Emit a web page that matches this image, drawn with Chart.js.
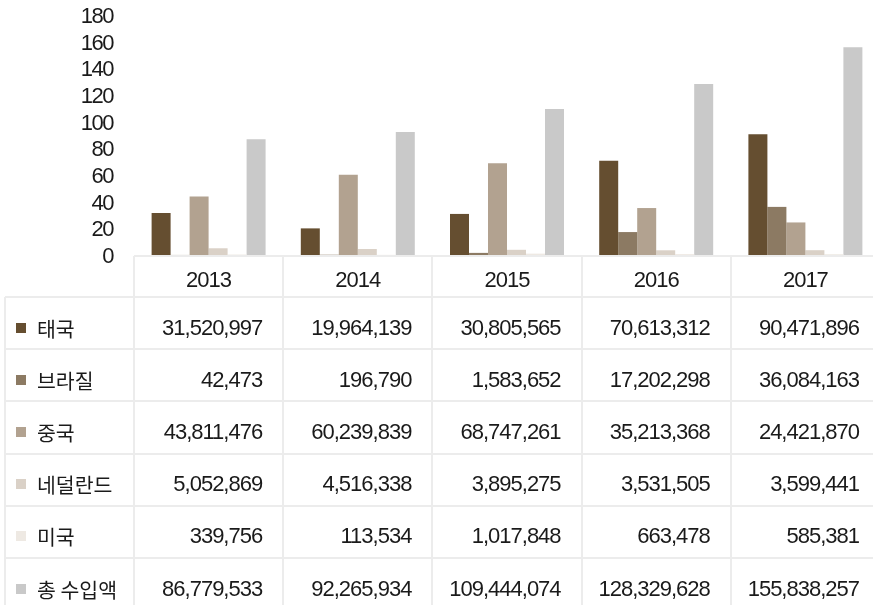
<!DOCTYPE html>
<html>
<head>
<meta charset="utf-8">
<script src="https://cdn.jsdelivr.net/npm/chart.js@4"></script>
<style>
  html, body { margin: 0; padding: 0; background: #fff; overflow: hidden; }
  #wrap { position: relative; width: 873px; height: 605px; overflow: hidden; }
  #box { position: absolute; left: 0; top: 0; width: 880px; height: 272px; }
  #tbl { position: absolute; left: 0; top: 0; width: 880px; height: 605px; }
  .ln { position: absolute; background: #ececec; }
  .tx { position: absolute; font: 22px "Liberation Sans", sans-serif; color: #1a1a1a;
        letter-spacing: -1px; white-space: nowrap; line-height: 24px; height: 24px; }
  .ko { font-family: "Noto Sans CJK KR", sans-serif; font-size: 20.5px; letter-spacing: 0; }
  .sq { position: absolute; width: 10px; height: 10px; }
</style>
</head>
<body>
<div id="wrap">
  <div id="box"><canvas id="chart"></canvas></div>
  <div id="tbl"></div>
</div>
<script>
// 연도
const years = ["2013", "2014", "2015", "2016", "2017"];
// 국가별 수입액
const names = ["태국", "브라질", "중국", "네덜란드", "미국", "총 수입액"];
const thailand = [31520997, 19964139, 30805565, 70613312, 90471896];
const brazil = [42473, 196790, 1583652, 17202298, 36084163];
const china = [43811476, 60239839, 68747261, 35213368, 24421870];
const netherlands = [5052869, 4516338, 3895275, 3531505, 3599441];
const usa = [339756, 113534, 1017848, 663478, 585381];
const total = [86779533, 92265934, 109444074, 128329628, 155838257];
const colors = ["#654e30", "#8c7a63", "#b2a290", "#dad1c7", "#eee9e3", "#c9c9c9"];
const yTicks = [0, 20, 40, 60, 80, 100, 120, 140, 160, 180];

const series = [thailand, brazil, china, netherlands, usa, total];

const tightText = {
  id: "tightText",
  beforeDraw(c) { c.ctx.letterSpacing = "-1.5px"; }
};

const chart = new Chart(document.getElementById("chart"), {
  type: "bar",
  data: {
    labels: years,
    datasets: series.map((s, i) => ({
      label: names[i],
      data: s.map(v => v / 1e6),
      backgroundColor: colors[i],
      borderWidth: 0,
      categoryPercentage: 0.764,
      barPercentage: 1
    }))
  },
  options: {
    responsive: true,
    maintainAspectRatio: false,
    animation: false,
    layout: { padding: { top: 15, bottom: 17, left: 0, right: 0 } },
    plugins: { legend: { display: false }, tooltip: { enabled: false } },
    scales: {
      x: { display: false },
      y: {
        min: 0, max: 180,
        afterFit: s => { s.width = 134; s.paddingTop = 0; s.paddingBottom = 0; },
        afterBuildTicks: s => { s.ticks = yTicks.map(v => ({ value: v })); },
        border: { display: false },
        grid: { display: false, drawTicks: false },
        ticks: {
          autoSkip: false,
          padding: 21,
          labelOffset: 2,
          color: "#1a1a1a",
          font: { family: "'Liberation Sans', sans-serif", size: 22 }
        }
      }
    }
  },
  plugins: [tightText]
});

// 표 그리기
const tbl = document.getElementById("tbl");
const xs = chart.scales.x;
const area = chart.chartArea;
const colW = (area.right - area.left) / years.length;
const headTop = 256, headBottom = 297, rowH = 52.2;

function add(cls, css, text) {
  const d = document.createElement("div");
  d.className = cls;
  Object.assign(d.style, css);
  if (text !== undefined) d.textContent = text;
  tbl.appendChild(d);
  return d;
}

// 가로선
add("ln", { left: area.left + "px", top: (headTop - 1) + "px", width: (880 - area.left) + "px", height: "2px" });
for (let r = 0; r < names.length; r++) {
  const y = headBottom + r * rowH;
  add("ln", { left: "5px", top: (y - 1) + "px", width: "875px", height: "2px" });
}
// 세로선
add("ln", { left: "4px", top: headBottom + "px", width: "2px", height: (605 - headBottom) + "px" });
for (let c = 0; c < years.length; c++) {
  const x = area.left + c * colW;
  add("ln", { left: (x - 1) + "px", top: headTop + "px", width: "2px", height: (605 - headTop) + "px" });
}

// 연도 머리글
years.forEach((yr, c) => {
  const cx = xs.getPixelForValue(c);
  add("tx", { left: (cx - 60) + "px", width: "120px", textAlign: "center", top: (279.5 - 12) + "px" }, yr);
});

// 값 행
names.forEach((nm, r) => {
  const cy = 328 + r * 52.1;
  add("sq", { left: "16px", top: (cy - 5) + "px", background: colors[r] });
  add("tx ko", { left: "37px", top: (cy - 12) + "px" }, nm);
  series[r].forEach((v, c) => {
    const right = area.left + (c + 1) * colW - 21;
    add("tx", { left: (right - 200) + "px", width: "200px", textAlign: "right", top: (cy - 12) + "px" },
        v.toLocaleString("en-US"));
  });
});
</script>
</body>
</html>
